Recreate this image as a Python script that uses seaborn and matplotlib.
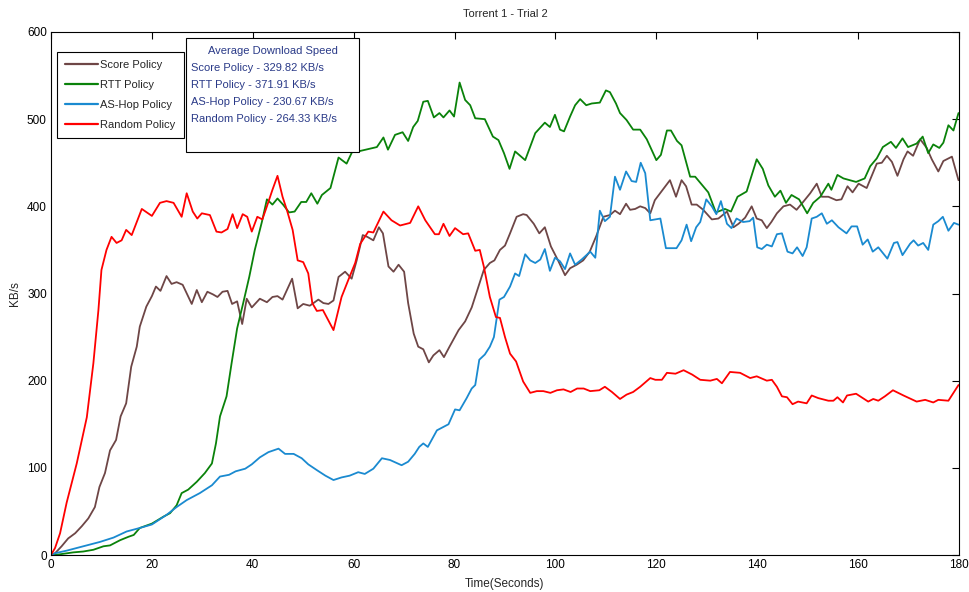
import matplotlib
matplotlib.use("Agg")
import matplotlib.pyplot as plt
import seaborn as sns
import pandas as pd
from matplotlib.patches import Rectangle

# ---------------- data ----------------
series_names = ["Score Policy", "RTT Policy", "AS-Hop Policy", "Random Policy"]

score_t = [0, 0.8, 2.1, 3.4, 4.8, 6.1, 7.4, 8.7, 9.6, 10.7, 11.7, 12.9, 13.8, 14.9, 15.9, 17.0, 17.6,
           18.9, 20.0, 20.8, 21.7, 22.9, 23.9, 24.9, 26.1, 27.9, 28.9, 29.9, 31.0, 32.1, 33.0, 34.0,
           35.0, 35.9, 36.9, 37.9, 38.8, 39.8, 41.4, 42.8, 43.9, 44.9, 45.9, 47.8, 48.9, 50.0, 51.3,
           53.0, 54.0, 55.0, 56.0, 57.0, 58.3, 59.6, 60.6, 61.8, 62.7, 63.9, 65.0, 65.8, 66.9, 67.9,
           68.9, 70.0, 70.8, 71.9, 72.8, 73.8, 74.9, 75.8, 77.0, 77.9, 79.0, 80.8, 82.1, 83.4, 84.3,
           85.8, 87.0, 87.9, 89.0, 90.0, 91.0, 92.3, 93.6, 94.3, 95.7, 96.8, 97.9, 99.1, 100.6, 101.9,
           102.9, 104.2, 105.5, 106.8, 108.1, 109.5, 110.8, 111.8, 112.8, 114.0, 114.8, 115.8, 116.8,
           117.8, 118.8, 119.7, 121.0, 122.7, 123.9, 125.0, 125.9, 127.0, 128.0, 129.3, 131.0, 132.3,
           134.0, 135.3, 136.3, 137.6, 138.9, 139.9, 140.9, 141.9, 142.8, 143.9, 145.2, 146.5, 147.8,
           149.1, 150.5, 151.8, 152.8, 154.1, 155.7, 156.7, 157.9, 158.9, 160.1, 161.7, 163.7, 164.7,
           165.7, 166.7, 167.8, 169.0, 169.8, 170.9, 172.3, 173.6, 174.6, 175.9, 176.9, 178.6, 179.9]
score_v = [0, 2, 10, 19, 25, 33, 42, 55, 78, 94, 120, 132, 159, 174, 216, 239, 262,
           285, 297, 308, 303, 320, 311, 313, 310, 288, 304, 290, 302, 299, 296, 302,
           303, 288, 291, 265, 294, 284, 294, 290, 296, 297, 293, 317, 283, 288, 286,
           293, 289, 288, 292, 319, 325, 317, 338, 367, 365, 361, 376, 369, 331, 325,
           333, 325, 289, 254, 239, 236, 221, 229, 235, 227, 239, 258, 268, 284, 300,
           327, 335, 338, 350, 355, 369, 388, 391, 390, 380, 369, 376, 354, 337, 321,
           329, 333, 338, 348, 366, 388, 390, 395, 391, 403, 396, 397, 400,
           398, 392, 407, 417, 430, 411, 430, 423, 402, 402, 396, 385, 386,
           394, 376, 380, 387, 400, 386, 384, 375, 382, 392, 400, 402, 396,
           405, 415, 426, 411, 411, 407, 408, 423, 416, 426, 421, 449, 450,
           458, 451, 435, 454, 463, 458, 477, 467, 454, 440, 452, 457, 430]

rtt_t = [0, 0.8, 4.4, 6.4, 8.4, 10.4, 11.7, 13.7, 15.4, 16.4, 17.6, 20.0, 22.3, 23.6, 24.9, 25.9,
         27.2, 28.9, 30.5, 31.9, 32.7, 33.5, 34.8, 35.8, 36.9, 38.1, 39.3, 40.4, 41.8, 42.8, 43.9,
         44.9, 46.0, 47.2, 48.3, 49.6, 50.6, 51.6, 52.8, 53.7, 55.4, 57.0, 58.6, 59.9, 60.9, 62.4,
         64.6, 65.9, 66.8, 68.2, 69.7, 70.8, 71.8, 72.7, 73.8, 74.7, 75.9, 77.0, 77.8, 79.0, 79.9,
         81.0, 82.1, 83.1, 84.1, 86.0, 87.6, 88.7, 89.8, 90.9, 92.0, 94.0, 96.0, 97.9, 98.9, 99.9,
         100.9, 101.7, 102.9, 103.9, 104.9, 106.1, 107.2, 108.8, 110.0, 110.8, 112.0, 112.8, 114.1,
         115.4, 116.8, 118.1, 120.0, 120.9, 122.1, 122.9, 124.1, 125.0, 126.7, 127.7, 128.7, 130.3,
         131.8, 133.6, 134.8, 136.1, 137.9, 139.9, 141.1, 142.2, 143.5, 144.6, 145.7, 146.8, 148.3,
         149.9, 151.1, 152.5, 154.1, 154.7, 155.9, 157.1, 159.6, 161.3, 162.4, 163.7, 164.9, 166.5,
         167.5, 168.8, 169.9, 171.6, 172.8, 173.9, 174.9, 176.1, 176.9, 177.9, 178.9, 179.9]
rtt_v = [0, 0, 3, 4, 6, 10, 11, 17, 21, 23, 31, 36, 44, 48, 57, 71,
         75, 84, 94, 105, 128, 159, 182, 220, 260, 289, 319, 350, 382, 408, 402,
         409, 402, 393, 394, 405, 405, 415, 403, 413, 421, 456, 449, 465, 463, 465,
         468, 479, 465, 482, 485, 475, 491, 498, 520, 521, 502, 507, 502, 510, 503,
         542, 522, 516, 501, 500, 480, 476, 461, 443, 463, 453, 484, 496, 491, 505,
         488, 486, 503, 516, 523, 516, 518, 519, 533, 531, 518, 507, 499,
         488, 488, 477, 453, 459, 487, 487, 475, 470, 434, 434, 427, 416,
         393, 397, 394, 411, 417, 454, 443, 424, 411, 418, 404, 413, 408,
         392, 404, 411, 426, 419, 436, 432, 428, 432, 446, 455, 468, 474,
         467, 478, 468, 472, 480, 461, 471, 467, 473, 493, 487, 507]

ashop_t = [0, 0.8, 3.1, 6.4, 9.7, 12.4, 15.0, 17.6, 20.0, 22.9, 24.9, 26.9, 29.5, 31.9, 33.5,
           35.3, 36.6, 38.5, 39.8, 41.4, 43.1, 45.1, 46.4, 48.1, 49.7, 51.0, 52.8, 54.4, 56.0,
           57.6, 59.2, 60.9, 62.2, 63.9, 65.6, 67.2, 69.5, 70.8, 72.1, 73.0, 73.8, 74.7, 76.5,
           77.8, 78.8, 80.1, 81.0, 82.4, 83.4, 84.1, 84.9, 86.0, 87.0, 87.8, 88.4, 88.9, 89.8,
           91.0, 92.0, 92.8, 94.0, 95.0, 96.0, 97.0, 97.9, 98.9, 99.9, 100.9, 101.9, 102.9, 103.9,
           105.2, 106.9, 107.9, 108.8, 109.8, 110.8, 111.8, 112.8, 114.0, 115.1, 116.0, 116.9,
           117.8, 118.8, 120.8, 121.9, 124.0, 125.0, 126.0, 126.9, 127.9, 128.7, 129.9, 131.0,
           131.9, 132.8, 134.0, 134.9, 135.9, 137.2, 138.5, 139.2, 140.0, 140.9, 141.9, 142.9,
           143.9, 144.9, 146.0, 147.0, 147.9, 149.0, 149.8, 150.8, 151.8, 152.8, 153.8, 154.8,
           156.1, 157.7, 158.7, 159.8, 160.9, 161.9, 162.9, 164.0, 165.8, 167.1, 167.8, 168.8,
           170.3, 171.0, 171.9, 172.9, 173.9, 174.9, 175.9, 176.8, 177.9, 179.0, 179.9]
ashop_v = [0, 2, 5, 10, 15, 20, 27, 31, 35, 46, 55, 63, 71, 80, 90,
           92, 96, 99, 104, 112, 118, 122, 116, 116, 111, 104, 97, 91, 86,
           89, 91, 95, 93, 99, 111, 109, 103, 107, 116, 124, 128, 124, 143,
           147, 150, 167, 166, 180, 191, 195, 224, 230, 239, 250, 273, 293, 296,
           308, 323, 320, 345, 338, 335, 339, 351, 326, 341, 337, 328, 346, 333,
           339, 348, 341, 395, 383, 388, 434, 419, 440, 429, 428, 450,
           438, 384, 386, 352, 352, 361, 379, 360, 376, 382, 408, 400,
           391, 406, 380, 375, 386, 382, 383, 387, 353, 351, 356, 354,
           368, 369, 348, 346, 353, 343, 353, 386, 388, 392, 380, 384,
           376, 369, 377, 377, 356, 362, 348, 353, 340, 358, 359, 344,
           357, 361, 355, 358, 350, 379, 383, 388, 372, 381, 379]

random_t = [0, 0.8, 1.8, 3.1, 5.1, 7.1, 8.4, 9.4, 10.0, 11.0, 12.0, 13.0, 14.0, 14.9, 16.0, 18.0,
            20.0, 21.6, 22.9, 24.3, 25.9, 26.9, 28.1, 29.0, 29.9, 31.5, 32.8, 33.8, 35.0, 36.0,
            36.9, 38.0, 38.9, 39.8, 40.9, 41.9, 42.8, 43.9, 44.9, 45.9, 46.8, 47.9, 48.9, 50.0,
            51.0, 51.8, 52.7, 53.9, 56.0, 57.6, 58.9, 60.3, 61.3, 62.9, 63.9, 65.9, 67.5, 69.2,
            71.2, 72.8, 74.2, 76.1, 76.9, 77.8, 79.0, 80.1, 81.7, 82.7, 84.1, 85.0, 85.8, 87.0,
            88.2, 89.0, 90.0, 91.0, 92.2, 93.6, 95.0, 96.3, 97.6, 99.0, 100.3, 101.6, 103.0, 104.3,
            105.6, 106.9, 108.7, 109.8, 111.2, 112.8, 114.1, 115.4, 116.8, 118.8, 119.8, 121.1,
            122.1, 123.8, 125.4, 127.1, 128.7, 130.7, 132.0, 133.0, 134.6, 136.6, 138.6, 139.9,
            141.9, 142.9, 143.9, 144.9, 145.9, 147.0, 148.1, 149.8, 150.8, 152.1, 154.1, 155.1,
            155.9, 157.0, 157.8, 159.6, 162.0, 163.0, 164.0, 165.3, 166.9, 169.0, 171.6, 173.3,
            174.9, 175.9, 177.9, 179.9]
random_v = [0, 8, 25, 60, 105, 158, 220, 281, 327, 350, 365, 358, 361, 373, 367, 397,
            389, 404, 406, 404, 388, 415, 394, 386, 392, 390, 371, 370, 374, 391,
            375, 391, 388, 371, 388, 385, 400, 419, 435, 411, 395, 373, 338, 336,
            323, 289, 280, 281, 258, 296, 315, 335, 357, 371, 370, 394, 384, 378,
            381, 400, 384, 368, 368, 380, 366, 375, 368, 369, 349, 350, 331, 296,
            273, 272, 250, 231, 222, 199, 186, 188, 188, 186, 189, 190, 187, 191,
            191, 188, 189, 193, 187, 179, 184, 187, 193, 203, 201, 201,
            209, 208, 212, 207, 201, 200, 202, 197, 210, 209, 203, 205,
            200, 201, 193, 182, 181, 173, 176, 174, 183, 180, 177, 177,
            181, 175, 183, 185, 176, 179, 177, 182, 189, 183, 176, 178,
            175, 178, 177, 195]

avg_title = "Average Download Speed"
avg_lines = ["Score Policy - 329.82 KB/s", "RTT Policy - 371.91 KB/s",
             "AS-Hop Policy - 230.67 KB/s", "Random Policy - 264.33 KB/s"]

x_ticks = [0, 20, 40, 60, 80, 100, 120, 140, 160, 180]
y_ticks = [0, 100, 200, 300, 400, 500, 600]

# ---------------- build long table ----------------
frames = []
for name, t, v in zip(series_names, [score_t, rtt_t, ashop_t, random_t],
                      [score_v, rtt_v, ashop_v, random_v]):
    frames.append(pd.DataFrame({"Time": t, "Speed": v, "Policy": name}))
df = pd.concat(frames, ignore_index=True)

palette = {"Score Policy": "#6e4646", "RTT Policy": "#0a820a",
           "AS-Hop Policy": "#1a8ad0", "Random Policy": "#ff0000"}

# ---------------- style ----------------
sns.set_style("white")
plt.rcParams["font.family"] = ["Liberation Sans", "DejaVu Sans"]
plt.rcParams["xtick.direction"] = "in"
plt.rcParams["ytick.direction"] = "in"

fig = plt.figure(figsize=(9.69, 5.92), dpi=100)
ax = fig.add_axes([51 / 969, 37 / 592, 908 / 969, 523 / 592])

sns.lineplot(data=df, x="Time", y="Speed", hue="Policy", palette=palette,
             hue_order=series_names, estimator=None, sort=True, linewidth=1.3,
             ax=ax, legend=True)

ax.set_xlim(0, 180)
ax.set_ylim(0, 600)
ax.set_xticks(x_ticks)
ax.set_yticks(y_ticks)
ax.tick_params(axis="both", which="both", direction="in", length=5, width=0.8,
               top=True, right=True, labelsize=8.5, colors="black", pad=3)
for sp in ax.spines.values():
    sp.set_visible(True)
    sp.set_color("black")
    sp.set_linewidth(0.8)

ax.set_title("Torrent 1 - Trial 2", fontsize=8, pad=11)
ax.set_xlabel("Time(Seconds)", fontsize=8.5, labelpad=5)
ax.set_ylabel("KB/s", fontsize=8.5, labelpad=4)

leg = ax.legend(loc="upper left", bbox_to_anchor=(6 / 908, 1 - 20 / 523),
                frameon=True, fancybox=False, edgecolor="black", framealpha=1,
                fontsize=8, handlelength=2.9, handletextpad=0.25,
                labelspacing=0.88, borderpad=0.75, borderaxespad=0)
leg.get_frame().set_linewidth(0.8)
for ln in leg.get_lines():
    ln.set_linewidth(1.6)

# text box with averages
bx0, bx1 = (186 - 51) / 908, (359 - 51) / 908
by0, by1 = (555 - 152) / 523, (555 - 38) / 523
ax.add_patch(Rectangle((bx0, by0), bx1 - bx0, by1 - by0, transform=ax.transAxes,
                       facecolor="white", edgecolor="black", linewidth=0.8, zorder=5))
txt_color = "#2a3a88"
ax.text((bx0 + bx1) / 2, (555 - 51) / 523, avg_title, transform=ax.transAxes,
        ha="center", va="center", fontsize=8, color=txt_color, zorder=6)
for i, line in enumerate(avg_lines):
    ax.text((191 - 51) / 908, (555 - (68 + 17 * i)) / 523, line, transform=ax.transAxes,
            ha="left", va="center", fontsize=8, color=txt_color, zorder=6)

fig.savefig("out.png", dpi=100, facecolor="white")
